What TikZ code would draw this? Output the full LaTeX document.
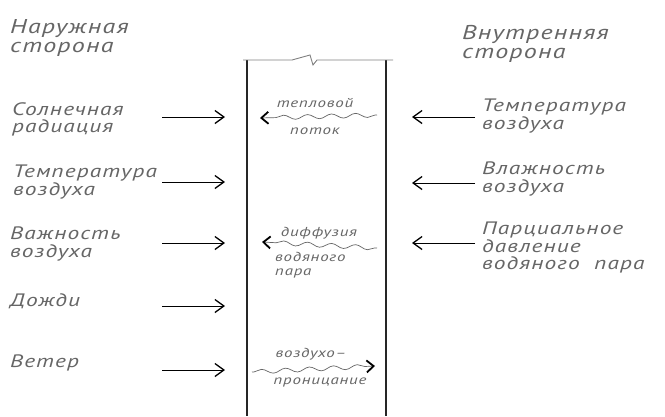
\documentclass[tikz,border=0pt]{standalone}
\usepackage{fontspec}
\usetikzlibrary{arrows.meta,decorations.pathmorphing}
\newfontfamily\lblfont{PT Sans Italic}[FakeStretch=1.3,LetterSpace=6]
\definecolor{inkgray}{HTML}{666666}
\tikzset{
  x=1pt, y=-1pt,
  lbl/.style={font=\lblfont\fontsize{18}{17.5}\selectfont, text=inkgray,
    anchor=north west, inner sep=0pt, align=left},
  head/.style={lbl, font=\lblfont\fontsize{20}{19}\selectfont},
  small/.style={font=\lblfont\fontsize{13}{14}\selectfont, text=inkgray,
    inner sep=0pt, align=left},
  extarrow/.style={draw=black, line width=0.8pt,
    -{Straight Barb[length=9pt,width=13pt,line width=1.3pt]}},
  flow/.style={draw=inkgray, line width=0.7pt,
    decoration={snake, amplitude=2.2pt, segment length=24pt, pre length=2pt, post length=5pt},
    decorate, -{Straight Barb[length=7pt,width=12pt,line width=1.8pt,color=black]}},
  wall/.style={draw=black!85, line width=2.4pt},
}
\begin{document}
\begin{tikzpicture}
\useasboundingbox[fill=white] (0,0) rectangle (665,416);

% wall cut with break line on top
\draw[wall] (247,60) -- (247,416);
\draw[wall] (386,60) -- (386,416);
\draw[draw=gray, line width=0.9pt] (243,60) -- (292,60) -- (310,55) -- (313,65) -- (317,60) -- (393,60);

% outer side labels
\node[head] (outer) at (10,19) {Наружная\\сторона};
\node[lbl] (sun) at (12,102) {Солнечная\\радиация};
\node[lbl] (otemp) at (13,165) {Температура\\воздуха};
\node[lbl] (ohum) at (10,227) {Важность\\воздуха};
\node[lbl] (rain) at (10,293) {Дожди};
\node[lbl] (wind) at (10,355) {Ветер};

% inner side labels
\node[head] (inner) at (462,25) {Внутренняя\\сторона};
\node[lbl] (itemp) at (482,99) {Температура\\воздуха};
\node[lbl] (ihum) at (482,162) {Влажность\\воздуха};
\node[lbl] (ppress) at (482,222) {Парциальное\\давление\\водяного\ \ пара};

% arrows from outside
\foreach \n/\y in {1/117, 2/182, 3/243, 4/306, 5/370}{
  \coordinate (oa\n) at (162,\y);
  \coordinate (ob\n) at (225,\y);
  \draw[extarrow] (oa\n) -- (ob\n);
}
% arrows from inside
\foreach \n/\y in {1/117, 2/183, 3/243}{
  \coordinate (ia\n) at (475,\y);
  \coordinate (ib\n) at (412,\y);
  \draw[extarrow] (ia\n) -- (ib\n);
}

% flows through the wall
\node[small, anchor=center] (heat) at (315,103) {тепловой};
\node[small, anchor=center] (heatb) at (315,131) {поток};
\coordinate (h1) at (377,115);
\coordinate (h2) at (260,118);
\draw[flow] (h1) -- (h2);

\node[small, anchor=center] (diff) at (319,233) {диффузия};
\node[small, anchor=north west] (diffb) at (275,252) {водяного\\пара};
\coordinate (d1) at (377,248);
\coordinate (d2) at (262,242);
\draw[flow] (d1) -- (d2);

\node[small, anchor=center] (air) at (311,354) {воздухо–};
\node[small, anchor=center] (airb) at (320,382) {проницание};
\coordinate (a1) at (252,372);
\coordinate (a2) at (375,366);
\draw[flow] (a1) -- (a2);
\end{tikzpicture}
\end{document}
